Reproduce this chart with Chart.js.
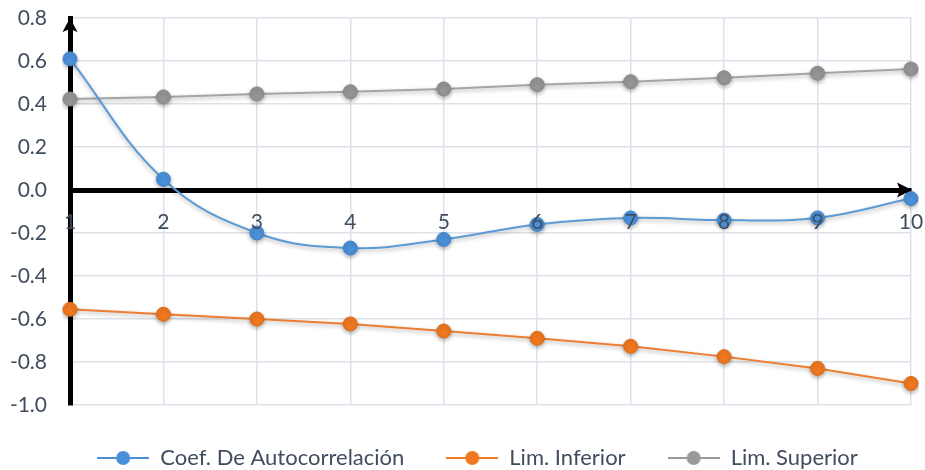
<!DOCTYPE html>
<html>
<head>
<meta charset="utf-8">
<script src="https://cdn.jsdelivr.net/npm/chart.js@4/dist/chart.umd.min.js"></script>
<style>
  html, body { margin: 0; padding: 0; background: #fff; }
  #wrap { width: 925px; height: 470px; }
</style>
</head>
<body>
<div id="wrap"><canvas id="myChart"></canvas></div>
<script>
const lags = ['1', '2', '3', '4', '5', '6', '7', '8', '9', '10'];
const coefAuto = [0.61, 0.05, -0.20, -0.27, -0.23, -0.16, -0.13, -0.14, -0.13, -0.04];
const limInferior = [-0.555, -0.578, -0.60, -0.623, -0.656, -0.69, -0.727, -0.775, -0.83, -0.90];
const limSuperior = [0.423, 0.433, 0.447, 0.457, 0.47, 0.49, 0.504, 0.522, 0.543, 0.563];

const textColor = '#414d5e';
const gridColor = '#dde2ea';
const fontFamily = 'Lato, "Open Sans", sans-serif';

// legend icon: short line with a dot in the middle, like the office legend
function legendIcon(color) {
  const c = document.createElement('canvas');
  c.width = 52;
  c.height = 16;
  const ctx = c.getContext('2d');
  ctx.strokeStyle = color;
  ctx.lineWidth = 2;
  ctx.beginPath();
  ctx.moveTo(0, 8);
  ctx.lineTo(52, 8);
  ctx.stroke();
  ctx.fillStyle = color;
  ctx.beginPath();
  ctx.arc(26, 8, 7, 0, Math.PI * 2);
  ctx.fill();
  return c;
}

const shadowPlugin = {
  id: 'shadow',
  beforeDatasetsDraw(chart) {
    const ctx = chart.ctx;
    ctx.save();
    ctx.shadowColor = 'rgba(0,0,0,0.3)';
    ctx.shadowBlur = 4;
    ctx.shadowOffsetY = 2;
  },
  afterDatasetsDraw(chart) {
    chart.ctx.restore();
  },
};

// the legend sits a bit right of the canvas centre in the original
const legendShift = {
  id: 'legendShift',
  afterLayout(chart) {
    if (chart.legend) {
      chart.legend.left += 22;
      chart.legend.right += 22;
    }
  },
};

const arrowPlugin = {
  id: 'arrows',
  afterDraw(chart) {
    const ctx = chart.ctx;
    const area = chart.chartArea;
    const x0 = area.left;
    const y0 = chart.scales.y.getPixelForValue(0);
    ctx.save();
    ctx.fillStyle = '#000';
    // up arrow on the y axis
    ctx.beginPath();
    ctx.moveTo(x0, area.top);
    ctx.lineTo(x0 + 7.5, area.top + 14);
    ctx.lineTo(x0, area.top + 11);
    ctx.lineTo(x0 - 7.5, area.top + 14);
    ctx.closePath();
    ctx.fill();
    // right arrow on the x axis
    const xr = area.right + 1;
    ctx.beginPath();
    ctx.moveTo(xr, y0);
    ctx.lineTo(xr - 15, y0 - 7.5);
    ctx.lineTo(xr - 12, y0);
    ctx.lineTo(xr - 15, y0 + 7.5);
    ctx.closePath();
    ctx.fill();
    ctx.restore();
  },
};

const datasets = [
  {
    label: 'Coef. De Autocorrelación',
    data: coefAuto,
    borderColor: '#5b9bd5',
    backgroundColor: '#4a90d9',
    pointBorderColor: '#3f86cf',
    tension: 0.4,
    icon: legendIcon('#4a90d9'),
  },
  {
    label: 'Lim. Inferior',
    data: limInferior,
    borderColor: '#ed7d31',
    backgroundColor: '#f07820',
    pointBorderColor: '#e06c15',
    tension: 0,
    icon: legendIcon('#f07820'),
  },
  {
    label: 'Lim. Superior',
    data: limSuperior,
    borderColor: '#a5a5a5',
    backgroundColor: '#959595',
    pointBorderColor: '#8a8a8a',
    tension: 0,
    icon: legendIcon('#999999'),
  },
];

datasets.forEach((d) => {
  d.borderWidth = 2;
  d.pointRadius = 7;
  d.pointBorderWidth = 1;
  d.pointHoverRadius = 7;
  d.fill = false;
});

const config = {
  type: 'line',
  data: { labels: lags, datasets: datasets },
  options: {
    responsive: true,
    maintainAspectRatio: false,
    animation: false,
    layout: { padding: { left: 0, right: 14, top: 18, bottom: -9 } },
    scales: {
      x: {
        position: { y: 0 },
        offset: false,
        grid: { color: gridColor, lineWidth: 1.5, drawTicks: false },
        border: { color: '#000', width: 5 },
        ticks: {
          z: 1,
          color: textColor,
          font: { family: fontFamily, size: 21 },
          padding: 20,
          maxRotation: 0,
        },
        afterFit(scale) {
          scale.paddingLeft = 0;
          scale.paddingRight = 0;
        },
      },
      y: {
        min: -1.0,
        max: 0.8,
        grid: { color: gridColor, lineWidth: 1.5, drawTicks: false },
        border: { color: '#000', width: 5 },
        ticks: {
          stepSize: 0.2,
          color: textColor,
          font: { family: fontFamily, size: 21 },
          padding: 23,
          callback: (v) => Number(v).toFixed(1),
        },
        afterFit(scale) {
          scale.width = 70;
          scale.paddingTop = 0;
          scale.paddingBottom = 0;
        },
      },
    },
    plugins: {
      tooltip: { enabled: false },
      legend: {
        position: 'bottom',
        labels: {
          color: textColor,
          font: { family: fontFamily, size: 22 },
          usePointStyle: true,
          pointStyleWidth: 52,
          padding: 42,
          generateLabels(chart) {
            return chart.data.datasets.map((ds, i) => ({
              text: ds.label,
              pointStyle: ds.icon,
              fontColor: textColor,
              datasetIndex: i,
              hidden: false,
              lineWidth: 0,
            }));
          },
        },
      },
    },
  },
  plugins: [shadowPlugin, legendShift, arrowPlugin],
};

const myChart = new Chart(document.getElementById('myChart'), config);
</script>
</body>
</html>
